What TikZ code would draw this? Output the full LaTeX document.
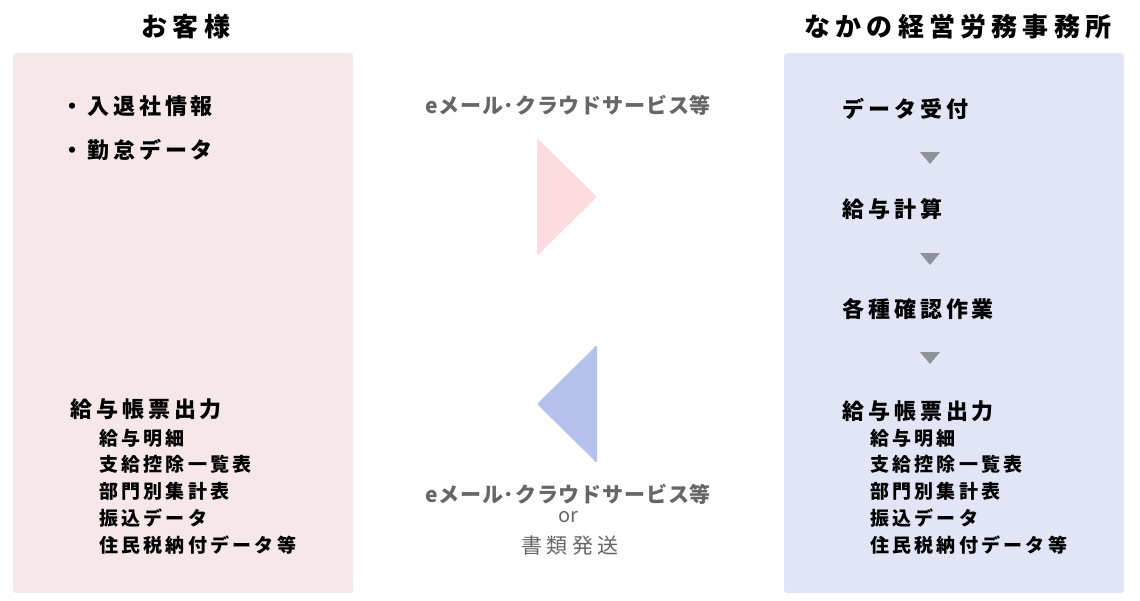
\documentclass[tikz,border=0pt]{standalone}
\usepackage{fontspec}
\setmainfont{Noto Sans CJK JP}
\usetikzlibrary{positioning}
\definecolor{custbg}{HTML}{F5E7EA}
\definecolor{officebg}{HTML}{E1E5F6}
\definecolor{sendpink}{HTML}{FDDCE0}
\definecolor{backblue}{HTML}{B3C1EC}
\definecolor{stepgray}{HTML}{909299}
\definecolor{viagray}{HTML}{666666}
\tikzstyle{panel} = [rectangle, rounded corners=3pt, anchor=north west, inner sep=0,
    minimum width=340pt, minimum height=540pt]
\tikzstyle{title} = [anchor=base, inner sep=0,
    font=\fontsize{26}{26}\selectfont\bfseries\addfontfeatures{LetterSpace=20}]
\tikzstyle{item} = [anchor=base west, inner sep=0,
    font=\fontsize{22}{22}\selectfont\bfseries\addfontfeatures{LetterSpace=18}]
\tikzstyle{sub} = [anchor=base west, inner sep=0,
    font=\fontsize{19}{19}\selectfont\bfseries\addfontfeatures{LetterSpace=17}]
\tikzstyle{via} = [anchor=base, inner sep=0, text=viagray,
    font=\fontsize{21}{21}\selectfont\bfseries\addfontfeatures{LetterSpace=4}]
\tikzstyle{viathin} = [anchor=base, inner sep=0, text=viagray,
    font=\fontsize{21}{21}\selectfont\addfontfeatures{LetterSpace=20}]

\begin{document}
\begin{tikzpicture}[x=1pt, y=-1pt]
    \useasboundingbox (0,0) rectangle (1140,600);
    % Place panels
    \node [panel, fill=custbg] (cust) at (13,53) {};
    \node [panel, fill=officebg] (office) at (784,53) {};
    \node [title] (custtitle) at (186,36) {お客様};
    \node [title] (officetitle) at (958,36) {なかの経営労務事務所};
    % Customer side
    \node [item] (in1) at (61,114) {・入退社情報};
    \node [item] (in2) at (61,158) {・勤怠データ};
    \node [item] (cout) at (70,417) {給与帳票出力};
    % Office side
    \node [item] (s1) at (842,117) {データ受付};
    \node [item] (s2) at (842,217) {給与計算};
    \node [item] (s3) at (842,317) {各種確認作業};
    \node [item] (oout) at (842,419) {給与帳票出力};
    \foreach \t [count=\i] in {給与明細, 支給控除一覧表, 部門別集計表, 振込データ, 住民税納付データ等} {
        \node [sub] (cs\i) at (99, 438+26.8*\i-26.8+7) {\t};
        \node [sub] (os\i) at (870, 438+26.8*\i-26.8+7) {\t};
    }
    % Step marks
    \foreach \y in {152,253,352}
        \fill [stepgray] (920,\y) -- (940,\y) -- (930,\y+12) -- cycle;
    % Transfer arrows
    \node [via] (send) at (568,113) {eメール･クラウドサービス等};
    \fill [sendpink, rounded corners=2pt] (537,138) -- (597,197) -- (537,256) -- cycle;
    \fill [backblue, rounded corners=2pt] (597,345) -- (537,404) -- (597,463) -- cycle;
    \node [via] (back) at (568,502) {eメール･クラウドサービス等};
    \node [via, font=\fontsize{20}{20}\selectfont] (or) at (568,522) {or};
    \node [viathin] (post) at (570,553) {書類発送};
\end{tikzpicture}
\end{document}
